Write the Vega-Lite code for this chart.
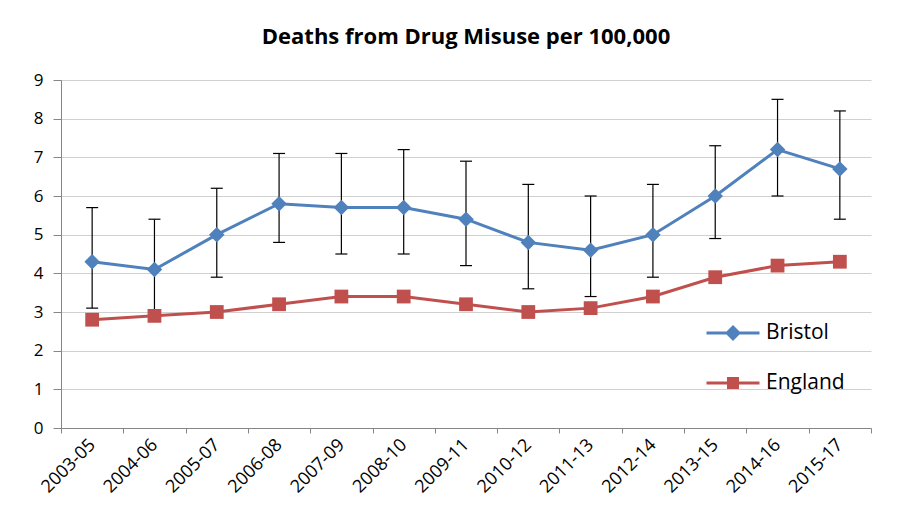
{
  "$schema": "https://vega.github.io/schema/vega-lite/v6.json",
  "autosize": "none",
  "width": 810,
  "height": 348,
  "padding": {"left": 61, "top": 80, "right": 39, "bottom": 92},
  "background": "white",
  "title": {
    "text": "Deaths from Drug Misuse per 100,000",
    "font": "Open Sans",
    "fontSize": 22,
    "fontWeight": "bold",
    "color": "#000000",
    "offset": 22,
    "anchor": "middle"
  },
  "data": {
    "values": [
      {"period": "2003-05", "series": "Bristol", "value": 4.3, "lo": 3.1, "hi": 5.7},
      {"period": "2004-06", "series": "Bristol", "value": 4.1, "lo": 2.9, "hi": 5.4},
      {"period": "2005-07", "series": "Bristol", "value": 5.0, "lo": 3.9, "hi": 6.2},
      {"period": "2006-08", "series": "Bristol", "value": 5.8, "lo": 4.8, "hi": 7.1},
      {"period": "2007-09", "series": "Bristol", "value": 5.7, "lo": 4.5, "hi": 7.1},
      {"period": "2008-10", "series": "Bristol", "value": 5.7, "lo": 4.5, "hi": 7.2},
      {"period": "2009-11", "series": "Bristol", "value": 5.4, "lo": 4.2, "hi": 6.9},
      {"period": "2010-12", "series": "Bristol", "value": 4.8, "lo": 3.6, "hi": 6.3},
      {"period": "2011-13", "series": "Bristol", "value": 4.6, "lo": 3.4, "hi": 6.0},
      {"period": "2012-14", "series": "Bristol", "value": 5.0, "lo": 3.9, "hi": 6.3},
      {"period": "2013-15", "series": "Bristol", "value": 6.0, "lo": 4.9, "hi": 7.3},
      {"period": "2014-16", "series": "Bristol", "value": 7.2, "lo": 6.0, "hi": 8.5},
      {"period": "2015-17", "series": "Bristol", "value": 6.7, "lo": 5.4, "hi": 8.2},
      {"period": "2003-05", "series": "England", "value": 2.8},
      {"period": "2004-06", "series": "England", "value": 2.9},
      {"period": "2005-07", "series": "England", "value": 3.0},
      {"period": "2006-08", "series": "England", "value": 3.2},
      {"period": "2007-09", "series": "England", "value": 3.4},
      {"period": "2008-10", "series": "England", "value": 3.4},
      {"period": "2009-11", "series": "England", "value": 3.2},
      {"period": "2010-12", "series": "England", "value": 3.0},
      {"period": "2011-13", "series": "England", "value": 3.1},
      {"period": "2012-14", "series": "England", "value": 3.4},
      {"period": "2013-15", "series": "England", "value": 3.9},
      {"period": "2014-16", "series": "England", "value": 4.2},
      {"period": "2015-17", "series": "England", "value": 4.3}
    ]
  },
  "encoding": {
    "x": {
      "field": "period",
      "type": "ordinal",
      "scale": {"type": "band", "paddingInner": 0, "paddingOuter": 0},
      "axis": {"title": null}
    }
  },
  "layer": [
    {
      "transform": [{"filter": "datum.series === 'Bristol'"}],
      "mark": {"type": "rule", "color": "#000000", "strokeWidth": 1.2},
      "encoding": {
        "y": {
          "field": "lo",
          "type": "quantitative",
          "scale": {"domain": [0, 9], "nice": false},
          "axis": {"title": null, "values": [0, 1, 2, 3, 4, 5, 6, 7, 8, 9], "tickCount": 10}
        },
        "y2": {"field": "hi"}
      }
    },
    {
      "transform": [{"filter": "datum.series === 'Bristol'"}],
      "mark": {"type": "tick", "orient": "horizontal", "color": "#000000", "size": 12, "thickness": 1.2, "opacity": 1},
      "encoding": {
        "y": {"field": "lo", "type": "quantitative", "axis": {"title": null, "values": [0, 1, 2, 3, 4, 5, 6, 7, 8, 9], "tickCount": 10}}
      }
    },
    {
      "transform": [{"filter": "datum.series === 'Bristol'"}],
      "mark": {"type": "tick", "orient": "horizontal", "color": "#000000", "size": 12, "thickness": 1.2, "opacity": 1},
      "encoding": {
        "y": {"field": "hi", "type": "quantitative", "axis": {"title": null, "values": [0, 1, 2, 3, 4, 5, 6, 7, 8, 9], "tickCount": 10}}
      }
    },
    {
      "mark": {"type": "line", "strokeWidth": 3},
      "encoding": {
        "y": {"field": "value", "type": "quantitative", "axis": {"title": null, "values": [0, 1, 2, 3, 4, 5, 6, 7, 8, 9], "tickCount": 10}},
        "color": {
          "field": "series",
          "type": "nominal",
          "scale": {"domain": ["Bristol", "England"], "range": ["#4F81BD", "#C0504D"]}
        }
      }
    },
    {
      "transform": [{"filter": "datum.series === 'Bristol'"}],
      "mark": {"type": "point", "filled": true, "opacity": 1, "size": 240, "shape": "diamond", "color": "#4F81BD"},
      "encoding": {
        "y": {"field": "value", "type": "quantitative", "axis": {"title": null, "values": [0, 1, 2, 3, 4, 5, 6, 7, 8, 9], "tickCount": 10}}
      }
    },
    {
      "transform": [{"filter": "datum.series === 'England'"}],
      "mark": {"type": "point", "filled": true, "opacity": 1, "size": 190, "shape": "square", "color": "#C0504D"},
      "encoding": {
        "y": {"field": "value", "type": "quantitative", "axis": {"title": null, "values": [0, 1, 2, 3, 4, 5, 6, 7, 8, 9], "tickCount": 10}}
      }
    },
    {
      "mark": {"type": "point", "filled": false, "opacity": 0},
      "encoding": {
        "y": {"field": "value", "type": "quantitative", "axis": {"title": null, "values": [0, 1, 2, 3, 4, 5, 6, 7, 8, 9], "tickCount": 10}},
        "color": {"field": "series", "type": "nominal"},
        "shape": {
          "field": "series",
          "type": "nominal",
          "scale": {
            "domain": ["Bristol", "England"],
            "range": [
              "M-1,0H1M0,-0.22L0.22,0L0,0.22L-0.22,0ZM0,-0.13L0.13,0L0,0.13L-0.13,0ZM0,-0.05L0.05,0L0,0.05L-0.05,0Z",
              "M-1,0H1M-0.17,-0.17H0.17V0.17H-0.17ZM-0.09,-0.09H0.09V0.09H-0.09ZM-0.02,-0.02H0.02V0.02H-0.02Z"
            ]
          }
        }
      }
    }
  ],
  "config": {
    "view": {"stroke": null},
    "axisX": {
      "labelAngle": -45,
      "labelAlign": "right",
      "labelBaseline": "middle",
      "labelFont": "Open Sans",
      "labelFontSize": 18,
      "labelColor": "#000000",
      "labelPadding": 9,
      "tickBand": "extent",
      "tickColor": "#868686",
      "domainColor": "#868686",
      "tickSize": 5,
      "grid": false
    },
    "axisY": {
      "labelFont": "Open Sans",
      "labelFontSize": 17,
      "labelColor": "#000000",
      "labelPadding": 10,
      "tickColor": "#868686",
      "domainColor": "#868686",
      "tickSize": 8,
      "tickCount": 10,
      "gridColor": "#d0d0d0",
      "gridWidth": 1
    },
    "legend": {
      "title": null,
      "orient": "none",
      "legendX": 644,
      "legendY": 225,
      "symbolSize": 2809,
      "symbolOpacity": 1,
      "symbolStrokeWidth": 3,
      "symbolFillColor": "transparent",
      "labelFont": "Open Sans",
      "labelFontSize": 21,
      "labelColor": "#000000",
      "labelOffset": 5,
      "rowPadding": 10,
      "columnPadding": 0,
      "symbolLimit": 0
    }
  }
}
